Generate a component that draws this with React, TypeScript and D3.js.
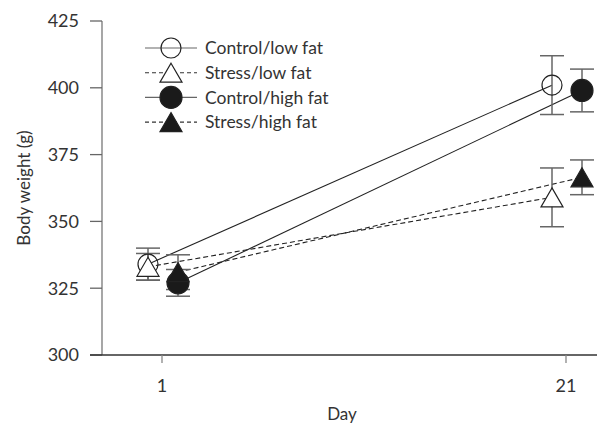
import * as d3 from "d3";

const width = 597;
const height = 431;

const days = [1, 21];
const yTicks = [300, 325, 350, 375, 400, 425];

const controlLow = [334, 401];
const controlLowErr = [6, 11];
const stressLow = [333, 359];
const stressLowErr = [5, 11];
const controlHigh = [327, 399];
const controlHighErr = [5, 8];
const stressHigh = [331, 366.5];
const stressHighErr = [6.5, 6.5];

const series = [
  { name: "Control/low fat", values: controlLow, err: controlLowErr, shape: "circle", filled: false, dashed: false, offset: -14 },
  { name: "Stress/low fat", values: stressLow, err: stressLowErr, shape: "triangle", filled: false, dashed: true, offset: -14 },
  { name: "Control/high fat", values: controlHigh, err: controlHighErr, shape: "circle", filled: true, dashed: false, offset: 16 },
  { name: "Stress/high fat", values: stressHigh, err: stressHighErr, shape: "triangle", filled: true, dashed: true, offset: 16 },
];

const font = "Lato, 'Open Sans', sans-serif";
const textColor = "#333";

const x = d3.scaleLinear().domain([1, 21]).range([162, 566]);
const y = d3.scaleLinear().domain([300, 425]).range([355, 21]);

const triangle = (cx: number, cy: number) => {
  const hw = 11;
  const h = 19;
  return `M${cx},${cy - h / 2}L${cx + hw},${cy + h / 2}L${cx - hw},${cy + h / 2}Z`;
};

const Marker = ({ shape, filled, cx, cy }: { shape: string; filled: boolean; cx: number; cy: number }) => {
  const stroke = "#222";
  if (shape === "circle") {
    return (
      <circle cx={cx} cy={cy} r={filled ? 11 : 10} fill={filled ? "#1a1a1a" : "none"} stroke={stroke} strokeWidth={1.2} />
    );
  }
  return <path d={triangle(cx, cy)} fill={filled ? "#1a1a1a" : "white"} stroke={stroke} strokeWidth={1.2} />;
};

const App = () => {
  const line = d3
    .line<[number, number]>()
    .x((d) => d[0])
    .y((d) => d[1]);

  return (
    <svg width={width} height={height} style={{ position: "absolute", left: 0, top: 0, background: "white" }}>
      {/* y axis */}
      <line x1={102} x2={102} y1={y(425)} y2={y(300)} stroke="#777" strokeWidth={1.3} />
      {yTicks.map((t) => (
        <g key={t}>
          <line x1={90} x2={102} y1={y(t)} y2={y(t)} stroke="#666" strokeWidth={1.3} />
          <text x={79} y={y(t)} dy="0.36em" textAnchor="end" fontFamily={font} fontSize={18} fill={textColor}>
            {t}
          </text>
        </g>
      ))}
      <text
        transform={`translate(24,${(y(425) + y(300)) / 2}) rotate(-90)`}
        textAnchor="middle"
        dy="0.35em"
        fontFamily={font}
        fontSize={17}
        fill={textColor}
      >
        Body weight (g)
      </text>

      {/* x axis */}
      <line x1={90} x2={597} y1={y(300)} y2={y(300)} stroke="#333" strokeWidth={1.3} />
      {days.map((d) => (
        <g key={d}>
          <line x1={x(d)} x2={x(d)} y1={y(300)} y2={y(300) + 8} stroke="#888" strokeWidth={1.3} />
          <text x={x(d)} y={392} textAnchor="middle" fontFamily={font} fontSize={18} fill={textColor}>
            {d}
          </text>
        </g>
      ))}
      <text x={342} y={420} textAnchor="middle" fontFamily={font} fontSize={17} fill={textColor}>
        Day
      </text>

      {/* connecting lines */}
      {series.map((s) => (
        <path
          key={s.name + "line"}
          d={line(days.map((d, i) => [x(d) + s.offset, y(s.values[i])]) as [number, number][]) || ""}
          fill="none"
          stroke="#222"
          strokeWidth={1.1}
          strokeDasharray={s.dashed ? "5,3" : undefined}
        />
      ))}

      {/* error bars */}
      {series.map((s) =>
        days.map((d, i) => {
          const cx = x(d) + s.offset;
          const top = y(s.values[i] + s.err[i]);
          const bot = y(s.values[i] - s.err[i]);
          return (
            <g key={s.name + d} stroke="#666" strokeWidth={1.5}>
              <line x1={cx} x2={cx} y1={top} y2={bot} />
              <line x1={cx - 12} x2={cx + 12} y1={top} y2={top} />
              <line x1={cx - 12} x2={cx + 12} y1={bot} y2={bot} />
            </g>
          );
        })
      )}

      {/* markers */}
      {series.map((s) =>
        days.map((d, i) => (
          <Marker key={s.name + "m" + d} shape={s.shape} filled={s.filled} cx={x(d) + s.offset} cy={y(s.values[i])} />
        ))
      )}

      {/* legend */}
      {series.map((s, i) => {
        const ly = 48 + i * 24.7;
        return (
          <g key={s.name + "leg"}>
            <line
              x1={145}
              x2={197}
              y1={ly}
              y2={ly}
              stroke={s.dashed ? "#333" : "#666"}
              strokeWidth={1.1}
              strokeDasharray={s.dashed ? "4,3" : undefined}
            />
            <Marker shape={s.shape} filled={s.filled} cx={171} cy={ly} />
            <text x={205} y={ly} dy="0.35em" fontFamily={font} fontSize={17.5} fill={textColor}>
              {s.name}
            </text>
          </g>
        );
      })}
    </svg>
  );
};

export default App;
